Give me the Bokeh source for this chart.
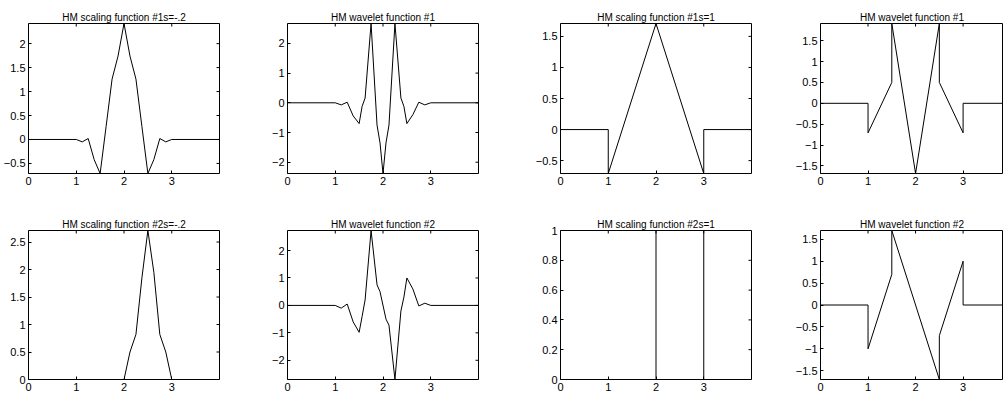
import math
from bokeh.plotting import figure
from bokeh.layouts import column, row
from bokeh.models import FixedTicker, LinearAxis, Range1d
from bokeh.embed import file_html
from bokeh.resources import INLINE

# ---------------- data ----------------
titles = ["HM scaling function #1s=-.2", "HM wavelet function #1",
          "HM scaling function #1s=1", "HM wavelet function #1",
          "HM scaling function #2s=-.2", "HM wavelet function #2",
          "HM scaling function #2s=1", "HM wavelet function #2"]

x1 = [0, 1, 1.125, 1.25, 1.375, 1.5, 1.625, 1.75, 1.875, 2, 2.125, 2.25, 2.375, 2.5, 2.625, 2.75, 2.875, 3, 4]
y1 = [0, 0, -0.05, 0.02, -0.42, -0.71, 0.27, 1.26, 1.74, 2.42, 1.74, 1.26, 0.27, -0.71, -0.42, 0.02, -0.05, 0, 0]

x2 = [0, 1, 1.125, 1.25, 1.375, 1.5, 1.5625, 1.625, 1.75, 1.875, 1.9375, 2, 2.0625, 2.125, 2.25, 2.375, 2.4375, 2.5, 2.625, 2.75, 2.875, 3, 4]
y2 = [0, 0, -0.07, 0.02, -0.44, -0.7, -0.12, 0.16, 2.67, -0.75, -1.35, -2.38, -1.35, -0.75, 2.67, 0.16, -0.12, -0.7, -0.4, 0.02, -0.07, 0, 0]

x3 = [0, 1, 1, 2, 3, 3, 4]
y3 = [0, 0, -0.707, 1.707, -0.707, 0, 0]

x4 = [0, 1, 1, 1.5, 1.5, 2, 2.5, 2.5, 3, 3, 4]
y4 = [0, 0, -0.707, 0.5, 1.91, -1.68, 1.91, 0.5, -0.707, 0, 0]

x5 = [0, 2, 2.125, 2.25, 2.375, 2.5, 2.625, 2.75, 2.875, 3, 4]
y5 = [0, 0, 0.5, 0.82, 1.85, 2.71, 1.95, 0.82, 0.5, 0, 0]

x6 = [0, 1, 1.125, 1.25, 1.375, 1.5, 1.5625, 1.625, 1.75, 1.875, 1.9375, 2.0625, 2.125, 2.25, 2.375, 2.4375, 2.5, 2.625, 2.75, 2.875, 3, 4]
y6 = [0, 0, -0.1, 0.05, -0.6, -0.98, -0.4, 0.2, 2.73, 0.75, 0.5, -0.5, -0.72, -2.70, -0.2, 0.3, 1.0, 0.6, -0.02, 0.08, 0, 0]

x7 = [0, 2, 2, 3, 3, 4]
y7 = [0, 0, 1, 1, 0, 0]

x8 = [0, 1, 1, 1.5, 1.5, 2.5, 2.5, 3, 3, 4]
y8 = [0, 0, -1, 0.7, 1.7, -1.7, -0.7, 1.0, 0, 0]

xticks = [0, 1, 2, 3]
yticks1 = [-0.5, 0, 0.5, 1, 1.5, 2]
yticks2 = [-2, -1, 0, 1, 2]
yticks3 = [-0.5, 0, 0.5, 1, 1.5]
yticks4 = [-1.5, -1, -0.5, 0, 0.5, 1, 1.5]
yticks5 = [0, 0.5, 1, 1.5, 2, 2.5]
yticks6 = [-2, -1, 0, 1, 2]
yticks7 = [0, 0.2, 0.4, 0.6, 0.8, 1]
yticks8 = [-1.5, -1, -0.5, 0, 0.5, 1, 1.5]

FONT = "Liberation Sans"


def lab(v):
    return f"{v:g}".replace("-", "\u2212")


def make(title, xs, ys, yt, fw, xend, lb, rb, tb, bb, fh, right_ticks=True):
    ymin, ymax = min(ys), max(ys)
    p = figure(frame_width=fw, frame_height=fh, output_backend="svg", toolbar_location=None,
               x_range=Range1d(0, xend), y_range=Range1d(ymin, ymax),
               min_border_left=lb, min_border_right=rb, min_border_top=tb, min_border_bottom=bb,
               x_axis_type=None, y_axis_type=None)
    p.title.text = title
    p.title.text_font = FONT
    p.title.text_font_size = "10px"
    p.title.text_font_style = "normal"
    p.title.text_color = "#000000"
    p.title.align = "center"
    p.title.standoff = 2
    p.grid.visible = False
    p.outline_line_color = "#000000"
    p.outline_line_width = 1
    p.background_fill_color = "white"
    p.border_fill_color = "white"

    def ax(ticks):
        a = LinearAxis(ticker=FixedTicker(ticks=ticks, minor_ticks=[]))
        a.major_tick_in = 3
        a.major_tick_out = 0
        a.major_tick_line_color = "#000000"
        a.axis_line_color = None
        a.minor_tick_line_color = None
        a.major_label_overrides = {t: lab(t) for t in ticks}
        a.major_label_text_font = FONT
        a.major_label_text_font_size = "11px"
        a.major_label_text_color = "#000000"
        a.major_label_standoff = 3
        return a

    p.add_layout(ax(xticks), "below")
    p.add_layout(ax(yt), "left")
    # inward tick marks on the top and right edges of the box
    p.ray(x=xticks, y=[ymax] * len(xticks), length=3, length_units="screen",
          angle=-math.pi / 2, line_color="#000000", line_width=1)
    if right_ticks:
        p.ray(x=[xend] * len(yt), y=yt, length=3, length_units="screen",
              angle=math.pi, line_color="#000000", line_width=1)
    p.line(xs, ys, line_color="#000000", line_width=1)
    return p


FW = 191
rows_spec = [(23, 25, 150), (32, 18, 149)]
cols_spec = [(28, 38), (30, 52), (30, 39), (30, 0)]

data = [(x1, y1, yticks1), (x2, y2, yticks2), (x3, y3, yticks3), (x4, y4, yticks4),
        (x5, y5, yticks5), (x6, y6, yticks6), (x7, y7, yticks7), (x8, y8, yticks8)]

rws = []
for r in range(2):
    tb, bb, fh = rows_spec[r]
    figs = []
    for c in range(4):
        lb, rb = cols_spec[c]
        xs, ys, yt = data[r * 4 + c]
        last = c == 3
        fw = 183 if last else FW
        xend = 3.85 if last else 4
        figs.append(make(titles[r * 4 + c], xs, ys, yt, fw, xend, lb, rb, tb, bb, fh, right_ticks=not last))
    rws.append(row(*figs, spacing=0))

layout = column(*rws, spacing=0)
open("out.html", "w").write(file_html(layout, INLINE))
